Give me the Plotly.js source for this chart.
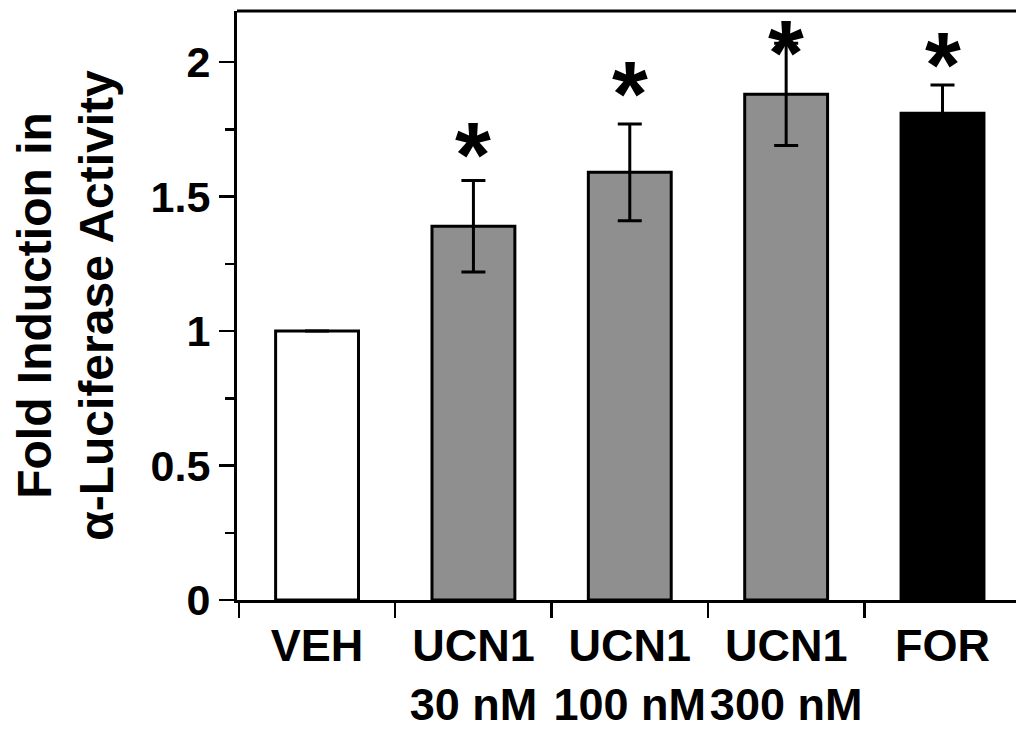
<!DOCTYPE html>
<html>
<head>
<meta charset="utf-8">
<script src="https://cdn.plot.ly/plotly-3.0.1.min.js"></script>
<style>
html,body{margin:0;padding:0;overflow:hidden;background:#fff;}
#chart{width:1016px;height:741px;}
</style>
</head>
<body>
<div id="chart"></div>
<script>
// ---- data ----
const categories = ["VEH", "UCN1<br>30 nM", "UCN1<br>100 nM", "UCN1<br>300 nM", "FOR"];
const foldInduction = [1.0, 1.39, 1.59, 1.88, 1.81];
const errorSEM = [0, 0.17, 0.18, 0.19, 0.105];
const barColors = ["#ffffff", "#8f8f8f", "#8f8f8f", "#8f8f8f", "#000000"];
const significant = [false, true, true, true, true];
const starHeights = [null, 1.70, 1.925, 2.08, 2.035];
const yTickVals = [0, 0.5, 1, 1.5, 2];
const yTickText = ["0", "0.5", "1", "1.5", "2"];

const FONT = "Liberation Sans, Arial, Helvetica, sans-serif";

const trace = {
  type: "bar",
  x: categories,
  y: foldInduction,
  width: 0.53,
  marker: {color: barColors, line: {color: "#000", width: 3}},
  error_y: {type: "data", array: errorSEM, visible: true, color: "#000", thickness: 3, width: 12},
  hoverinfo: "skip"
};

const annotations = [];
categories.forEach((c, i) => {
  if (significant[i]) {
    annotations.push({
      x: c, y: starHeights[i], xref: "x", yref: "y",
      text: "*", showarrow: false,
      font: {family: FONT, size: 92, color: "#000", weight: "bold"},
      xanchor: "center", yanchor: "middle", yshift: -12
    });
  }
});

const layout = {
  width: 1016, height: 741,
  margin: {l: 237, r: 0, t: 11, b: 141, pad: 0},
  paper_bgcolor: "#fff", plot_bgcolor: "#fff",
  showlegend: false,
  bargap: 0.47,
  font: {family: FONT, color: "#000"},
  xaxis: {
    type: "category",
    range: [-0.512, 4.47],
    tickson: "boundaries",
    tickangle: 0,
    ticklabelstandoff: 4,
    ticks: "outside", ticklen: 15, tickwidth: 2.5, tickcolor: "#000",
    showline: true, linecolor: "#000", linewidth: 3,
    showgrid: false, zeroline: false,
    tickfont: {family: FONT, size: 45, color: "#000", weight: "bold"},
    automargin: false,
    fixedrange: true
  },
  yaxis: {
    range: [0, 2.19],
    tickvals: yTickVals, ticktext: yTickText,
    ticks: "outside", ticklen: 15, tickwidth: 2.5, tickcolor: "#000",
    minor: {dtick: 0.25, tick0: 0, ticks: "outside", ticklen: 9, tickwidth: 2.5, tickcolor: "#000", showgrid: false},
    showline: true, linecolor: "#000", linewidth: 3,
    showgrid: false, zeroline: false,
    tickfont: {family: FONT, size: 43, color: "#000", weight: "bold"},
    title: {text: "Fold Induction in<br>α-Luciferase Activity", font: {family: FONT, size: 48, color: "#000", weight: "bold"}, standoff: 22},
    automargin: false,
    fixedrange: true
  },
  shapes: [{type: "line", xref: "paper", yref: "paper", x0: 0, x1: 1, y0: 1, y1: 1, line: {color: "#000", width: 3}}],
  annotations: annotations
};

Plotly.newPlot("chart", [trace], layout, {displayModeBar: false, staticPlot: true});
</script>
</body>
</html>
